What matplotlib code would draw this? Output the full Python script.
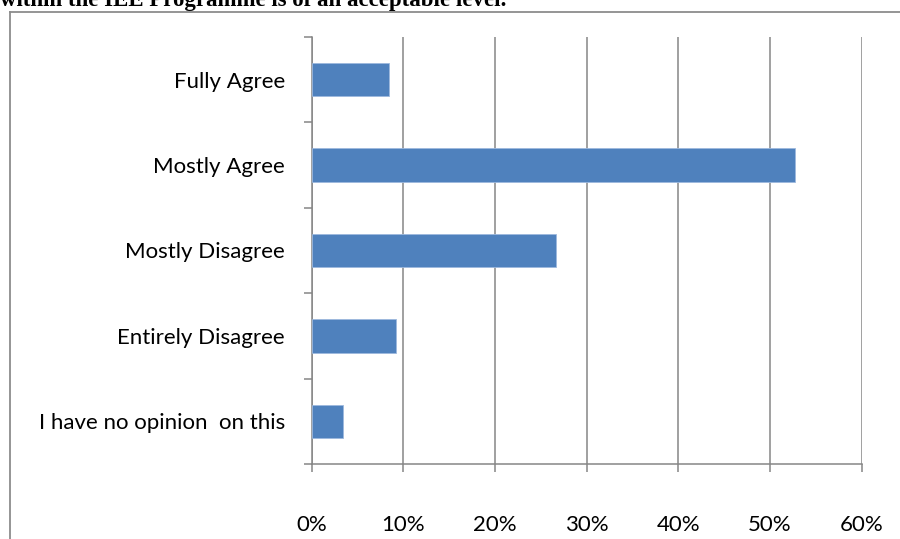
import matplotlib
matplotlib.use("Agg")
import numpy as np
from matplotlib import pyplot as plt
from matplotlib.lines import Line2D
from matplotlib.ticker import FixedLocator, PercentFormatter

categories = ["Fully Agree", "Mostly Agree", "Mostly Disagree",
              "Entirely Disagree", "I have no opinion  on this"]
shares = [8.4, 52.7, 26.7, 9.2, 3.4]
xticks = [0, 10, 20, 30, 40, 50, 60]
heading = "within the IEE Programme is of an acceptable level."

W, H = 900, 539
grey = "#868686"

fig = plt.figure(figsize=(W / 100, H / 100), dpi=100)
ax = fig.add_axes([311.5 / W, 1 - 464 / H, (861.7 - 311.5) / W, (464 - 37) / H])

y = np.arange(len(categories))
ax.barh(y, shares, height=0.39, color="#4F81BD", edgecolor="#9DB9DE",
        linewidth=0.6, zorder=3)

ax.set_xlim(0, 60)
ax.set_ylim(len(categories) - 0.5, -0.5)

ax.set_xticks(xticks)
ax.xaxis.set_major_formatter(PercentFormatter(decimals=0))
ax.grid(axis="x", color=grey, linewidth=1.1, zorder=1)

ax.set_yticks(y)
ax.set_yticklabels(categories)
ax.yaxis.set_minor_locator(FixedLocator(np.arange(-0.5, len(categories), 1)))
ax.tick_params(axis="y", which="major", length=0, pad=19)
ax.tick_params(axis="y", which="minor", length=6, width=1.1, color=grey)
ax.tick_params(axis="x", length=6, width=1.1, color=grey, pad=31)
for lab in ax.get_xticklabels() + ax.get_yticklabels():
    lab.set_fontfamily("Lato")
    lab.set_fontsize(16)

for side in ("top", "right"):
    ax.spines[side].set_visible(False)
for side in ("left", "bottom"):
    ax.spines[side].set_color(grey)
    ax.spines[side].set_linewidth(1.1)

# outer chart frame, open at the right and bottom
fig.add_artist(Line2D([10 / W, 10 / W], [0, 1 - 12 / H], color="#8c8c8c", linewidth=1.3))
fig.add_artist(Line2D([10 / W, 1], [1 - 12 / H, 1 - 12 / H], color="#8c8c8c", linewidth=1.3))

fig.text(0, 1 - 6 / H, heading, family="Liberation Serif", weight="bold",
         fontsize=16.5, va="baseline", ha="left")

fig.savefig("out.png", dpi=100)
